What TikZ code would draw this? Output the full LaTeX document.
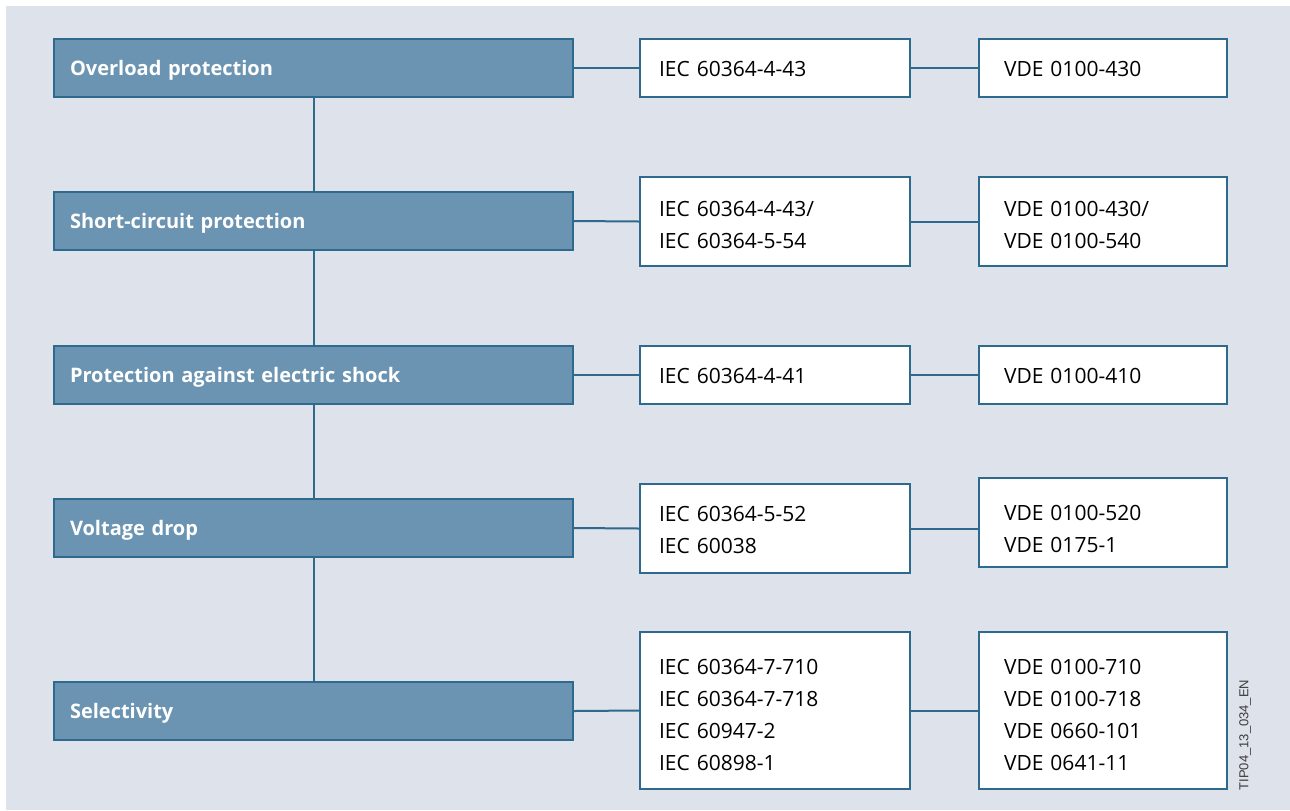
\documentclass[tikz,border=0pt]{standalone}
\usepackage{fontspec}
\setmainfont{Open Sans}
\newfontfamily\tagfont{Liberation Sans}
\definecolor{bgc}{RGB}{222,226,234}
\definecolor{bluefill}{RGB}{106,148,178}
\definecolor{blueline}{RGB}{46,106,142}
\definecolor{tagc}{RGB}{60,60,60}
\tikzset{
  bluebox/.style={draw=blueline, line width=1pt, fill=bluefill, text=white,
    font=\fontsize{10}{16}\selectfont\bfseries, minimum width=259.5pt, minimum height=29pt,
    inner xsep=8pt, text width=243.5pt, align=left, text height=9.6pt},
  colA/.style={draw=blueline, line width=1pt, fill=white, text=black,
    font=\fontsize{10.5}{16}\selectfont, minimum width=135pt,
    inner xsep=9.5pt, text width=116pt, align=left},
  colB/.style={draw=blueline, line width=1pt, fill=white, text=black,
    font=\fontsize{10.5}{16}\selectfont, minimum width=124pt,
    inner xsep=12.5pt, text width=99pt, align=left},
  conn/.style={draw=blueline, line width=1pt}
}
\begin{document}
\begin{tikzpicture}[x=0.5pt,y=-0.5pt]
\useasboundingbox (0,0) rectangle (1290,810);
\fill[bgc] (6,6) rectangle (1290,810);
% left column
\node[bluebox] (b1) at (313.5,68) {Overload protection};
\node[bluebox] (b2) at (313.5,221) {Short-circuit protection};
\node[bluebox] (b3) at (313.5,375) {Protection against electric shock};
\node[bluebox] (b4) at (313.5,528) {Voltage drop};
\node[bluebox] (b5) at (313.5,711) {Selectivity};
% IEC column
\node[colA, minimum height=29pt, text height=8.5pt] (c1) at (775,68) {IEC 60364-4-43};
\node[colA, minimum height=44.5pt, text height=11.5pt] (c2) at (775,221.5) {IEC 60364-4-43/\\IEC 60364-5-54};
\node[colA, minimum height=29pt, text height=8.5pt] (c3) at (775,375) {IEC 60364-4-41};
\node[colA, minimum height=44.5pt, text height=9.5pt] (c4) at (775,528.5) {IEC 60364-5-52\\IEC 60038};
\node[colA, minimum height=78.5pt, text height=12.5pt] (c5) at (775,710.5) {IEC 60364-7-710\\IEC 60364-7-718\\IEC 60947-2\\IEC 60898-1};
% VDE column
\node[colB, minimum height=29pt, text height=8.5pt] (d1) at (1103,68) {VDE 0100-430};
\node[colB, minimum height=44.5pt, text height=11.5pt] (d2) at (1103,221.5) {VDE 0100-430/\\VDE 0100-540};
\node[colB, minimum height=29pt, text height=8.5pt] (d3) at (1103,375) {VDE 0100-410};
\node[colB, minimum height=44.5pt, text height=14.5pt] (d4) at (1103,522.5) {VDE 0100-520\\VDE 0175-1};
\node[colB, minimum height=78.5pt, text height=12.5pt] (d5) at (1103,710.5) {VDE 0100-710\\VDE 0100-718\\VDE 0660-101\\VDE 0641-11};
% connectors
\draw[conn] (b1.south) -- (b2.north);
\draw[conn] (b2.south) -- (b3.north);
\draw[conn] (b3.south) -- (b4.north);
\draw[conn] (b4.south) -- (b5.north);
\foreach \i in {1,2,3,5}{
  \draw[conn] (b\i.east) -- (c\i.west);
  \draw[conn] (c\i.east) -- (d\i.west);
}
\draw[conn] (b4.east) -- (c4.west);
\draw[conn] (c4.east) -- (c4.east -| d4.west);
% tag
\node[rotate=90, text=tagc, font=\tagfont\fontsize{6.5}{8}\selectfont, inner sep=0pt] (tag) at (1245,735) {TIP04\_13\_034\_EN};
\end{tikzpicture}
\end{document}
